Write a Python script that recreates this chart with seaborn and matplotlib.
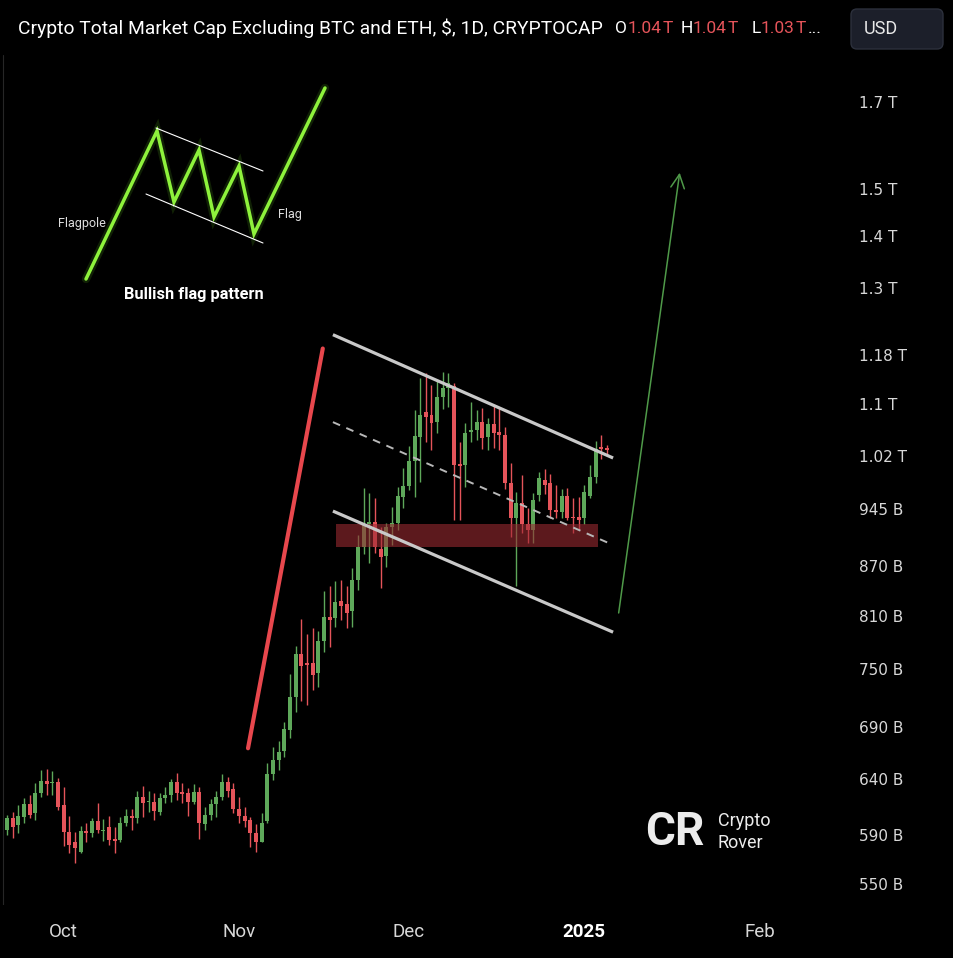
import numpy as np
import pandas as pd
import matplotlib
matplotlib.use("Agg")
import matplotlib.pyplot as plt
import matplotlib.dates as mdates
import seaborn as sns
from matplotlib.patches import FancyBboxPatch, Rectangle

# daily candles starting 2024-09-21, values in billions of USD
opens = [595, 605, 599, 606, 617, 609, 627, 638, 636, 637,
         616, 593, 584, 576, 594, 592, 602, 594, 597, 587,
         586, 601, 607, 605, 624, 619, 619, 610, 623, 625,
         637, 628, 627, 619, 628, 600, 608, 617, 624, 637,
         631, 613, 607, 603, 592, 584, 602, 645, 658, 666,
         687, 720, 767, 757, 757, 746, 781, 809, 807, 827,
         824, 815, 853, 895, 924, 927, 892, 883, 921, 926,
         961, 977, 1013, 1048, 1087, 1082, 1071, 1111, 1125, 1128,
         1008, 1007, 1056, 1059, 1071, 1048, 1068, 1056, 1051, 981,
         933, 953, 925, 917, 964, 985, 981, 944, 941, 963,
         934, 934, 932, 963, 990, 1033, 1032]
highs = [608, 610, 616, 623, 625, 636, 648, 649, 647, 641,
         633, 607, 593, 598, 601, 605, 618, 604, 607, 597,
         606, 613, 613, 629, 634, 629, 627, 627, 633, 640,
         646, 636, 632, 635, 633, 615, 622, 629, 645, 642,
         636, 624, 615, 606, 600, 609, 655, 670, 676, 695,
         745, 775, 806, 789, 796, 792, 839, 845, 852, 853,
         846, 868, 910, 974, 967, 960, 921, 926, 948, 975,
         1003, 1034, 1090, 1141, 1149, 1130, 1138, 1151, 1149, 1133,
         1041, 1070, 1103, 1090, 1093, 1077, 1098, 1095, 1064, 1010,
         968, 993, 946, 967, 996, 1001, 994, 978, 972, 974,
         960, 961, 978, 1007, 1042, 1051, 1036]
lows = [590, 588, 592, 601, 605, 603, 624, 625, 625, 612,
        581, 575, 567, 575, 584, 589, 592, 585, 582, 575,
        584, 598, 595, 601, 606, 610, 603, 608, 618, 619,
        621, 618, 607, 617, 587, 595, 603, 606, 621, 624,
        609, 601, 597, 580, 576, 584, 601, 639, 648, 661,
        679, 705, 716, 712, 728, 731, 769, 774, 797, 805,
        796, 797, 841, 885, 874, 887, 843, 869, 897, 917,
        946, 971, 961, 982, 1041, 1029, 1055, 1092, 1095, 930,
        930, 975, 1040, 1044, 1031, 1029, 1032, 1029, 972, 907,
        846, 913, 899, 899, 956, 965, 933, 933, 933, 930,
        913, 917, 924, 960, 981, 1016, 1021]
closes = [605, 597, 607, 617, 608, 627, 638, 635, 637, 615,
          593, 582, 579, 594, 592, 602, 595, 595, 586, 585,
          601, 607, 605, 624, 618, 620, 611, 623, 625, 637,
          627, 626, 619, 628, 601, 608, 617, 624, 637, 629,
          613, 607, 602, 592, 584, 601, 645, 658, 665, 688,
          720, 767, 753, 754, 744, 781, 809, 805, 826, 822,
          813, 853, 894, 924, 927, 894, 882, 920, 926, 963,
          977, 1013, 1050, 1082, 1079, 1070, 1111, 1125, 1133, 1007,
          1005, 1055, 1059, 1071, 1047, 1068, 1055, 1051, 981, 933,
          953, 924, 917, 957, 988, 978, 944, 941, 963, 933,
          932, 930, 968, 990, 1030, 1030, 1029]
start_date = "2024-09-21"

# drawn annotations (dates, values in B)
pole_dates = ["2024-11-02 14:00", "2024-11-15 19:00"]
pole_vals = [669, 1191]
chan_dates = ["2024-11-17 14:00", "2025-01-06 02:00"]
upper_vals = [1215, 1017]
lower_vals = [942, 791]
mid_vals = [1071, 897]
zone_dates = ["2024-11-18 02:00", "2025-01-03 10:00"]
zone_vals = [895, 925]
arrow_dates = ["2025-01-07 00:00", "2025-01-17 22:00"]
arrow_vals = [810, 1541]

ytick_vals = [1700, 1500, 1400, 1300, 1180, 1100, 1020, 945, 870, 810, 750, 690, 640, 590, 550]
ytick_labels = ["1.7 T", "1.5 T", "1.4 T", "1.3 T", "1.18 T", "1.1 T", "1.02 T", "945 B",
                "870 B", "810 B", "750 B", "690 B", "640 B", "590 B", "550 B"]
xtick_dates = ["2024-10-01", "2024-11-01", "2024-12-01", "2025-01-01", "2025-02-01"]
xtick_labels = ["Oct", "Nov", "Dec", "2025", "Feb"]

# inset "bullish flag" sketch, in pixels of the picture
flag_x = [86, 157, 174, 199, 214, 239, 254, 325]
flag_y = [279, 131, 202, 150, 217, 166, 234, 88]

W, H = 954, 958
GREEN = "#5ea85a"
RED = "#e5545a"

sns.set_theme(style="dark", rc={"figure.facecolor": "black", "axes.facecolor": "black",
                                "savefig.facecolor": "black"})
plt.rcParams['font.family'] = ['Roboto', 'DejaVu Sans']

fig = plt.figure(figsize=(W / 100, H / 100), dpi=100)
ax = fig.add_axes([0, 1 - 905 / H, 845 / W, (905 - 55) / H])

dates = pd.date_range(start_date, periods=len(opens), freq="D")
xn = mdates.date2num(dates)
o = np.array(opens, float)
c = np.array(closes, float)
up = c >= o
colors = np.where(up, GREEN, RED)

ax.vlines(xn, lows, highs, colors=colors, lw=1.0, zorder=2)
ax.bar(xn, np.abs(c - o), bottom=np.minimum(o, c), width=0.7, color=colors,
       linewidth=0, zorder=3)

ax.set_yscale("log")
base = mdates.date2num(pd.Timestamp(start_date))
ax.set_xlim(base - 7 / 5.66, base + 838 / 5.66)
ax.set_ylim(533.6, 1819)

# zone
zd = mdates.date2num(pd.to_datetime(zone_dates))
ax.add_patch(Rectangle((zd[0], zone_vals[0]), zd[1] - zd[0], zone_vals[1] - zone_vals[0],
                       facecolor="#9a2a32", alpha=0.6, lw=0, zorder=4))

cd = pd.to_datetime(chan_dates)
ax.plot(cd, upper_vals, color="#c9c9c9", lw=2.3, zorder=5, solid_capstyle="butt")
ax.plot(cd, lower_vals, color="#c9c9c9", lw=2.3, zorder=5, solid_capstyle="butt")
ax.plot(cd, mid_vals, color="#b8b8b8", lw=1.4, dashes=(4, 3.5), zorder=5)
ax.plot(pd.to_datetime(pole_dates), pole_vals, color="#e8474d", lw=3.0, zorder=5,
        solid_capstyle="round")
ad = pd.to_datetime(arrow_dates)
ax.annotate("", xy=(ad[1], arrow_vals[1]), xytext=(ad[0], arrow_vals[0]),
            arrowprops=dict(arrowstyle="->,head_length=0.7,head_width=0.35",
                            color="#4f9a49", lw=1.1, mutation_scale=14), zorder=5)

ax.yaxis.tick_right()
ax.set_yticks(ytick_vals)
ax.set_yticklabels(ytick_labels)
ax.yaxis.set_minor_locator(matplotlib.ticker.NullLocator())
ax.tick_params(axis="y", length=0, pad=10, labelsize=11, colors="#d8d8d8")
for t in ax.get_yticklabels():
    t.set_family("DejaVu Sans")
ax.set_xticks(mdates.date2num(pd.to_datetime(xtick_dates)))
ax.set_xticklabels(xtick_labels)
ax.tick_params(axis="x", length=0, pad=13, labelsize=13.5, colors="#d8d8d8")
for t in ax.get_xticklabels():
    if t.get_text() == "2025":
        t.set_fontweight("bold")
        t.set_color("#ffffff")
for s in ax.spines.values():
    s.set_visible(False)
ax.grid(False)
ax.axvline(base - 0.75, color="#262626", lw=0.8, zorder=1)

# overlay in picture pixels
ov = fig.add_axes([0, 0, 1, 1], zorder=10)
ov.set_xlim(0, W)
ov.set_ylim(H, 0)
ov.axis("off")
ov.patch.set_alpha(0)

# title
ov.text(18, 28, "Crypto Total Market Cap Excluding BTC and ETH, $, 1D, CRYPTOCAP",
        color="white", fontsize=13.9, va="center", ha="left")
for xx, s, col in [(615, "O", "white"), (628, "1.04", RED), (663, "T", RED),
                   (681, "H", "white"), (693, "1.04", RED), (728, "T", RED),
                   (752, "L", "white"), (761, "1.03", RED), (796, "T", RED),
                   (808, "...", "white")]:
    ov.text(xx, 28, s, color=col, fontsize=12.5, va="center", ha="left")
ov.add_patch(FancyBboxPatch((851, 9), 92, 40, boxstyle="round,pad=0,rounding_size=6",
                            facecolor="#1c1f2a", edgecolor="#2c303c", lw=1))
ov.text(864, 29, "USD", color="#e8e8e8", fontsize=13, va="center", ha="left")

# flag sketch
ov.plot(flag_x, flag_y, color="#6fe022", lw=6, alpha=0.15, solid_joinstyle="miter")
ov.plot(flag_x, flag_y, color="#8ef23c", lw=2.5, solid_joinstyle="miter")
ov.plot([156, 263], [128, 171], color="white", lw=0.8)
ov.plot([146, 263], [194, 243], color="white", lw=0.8)
ov.text(82, 223, "Flagpole", color="#dddddd", fontsize=9, ha="center", va="center")
ov.text(290, 214, "Flag", color="#dddddd", fontsize=9, ha="center", va="center")
ov.text(194, 295, "Bullish flag pattern", color="white", fontsize=11.8, fontweight="bold",
        ha="center", va="center")

# logo
ov.text(675, 832, "CR", color="#ececec", fontsize=33, fontweight="bold", ha="center",
        va="center")
ov.text(718, 821, "Crypto", color="#ececec", fontsize=13, ha="left", va="center")
ov.text(718, 843, "Rover", color="#ececec", fontsize=13, ha="left", va="center")

fig.savefig("out.png", dpi=100, facecolor="black")
